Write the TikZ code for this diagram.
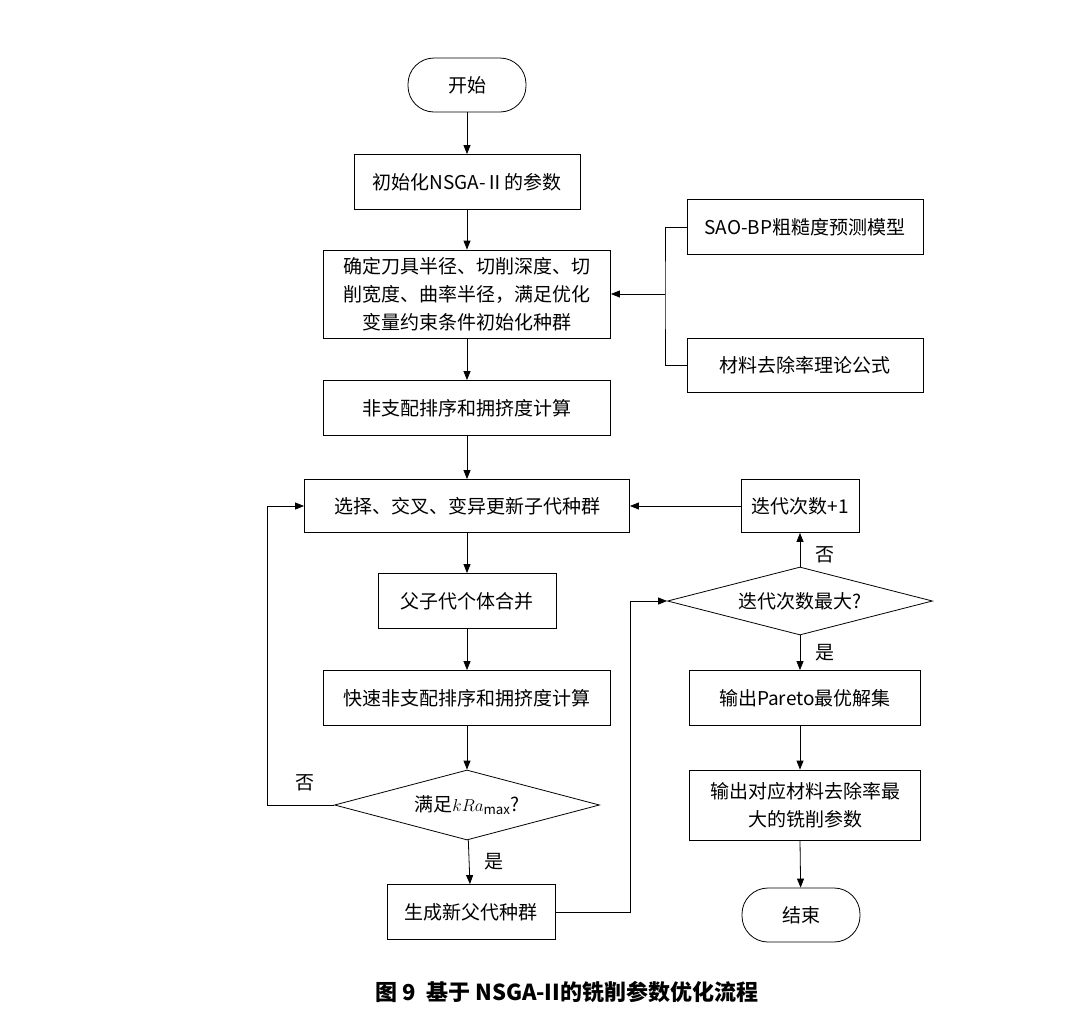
\documentclass[tikz,border=0pt]{standalone}
\usepackage{fontspec}
\setmainfont{Noto Sans CJK SC}
\usepackage{amsmath}
\usetikzlibrary{shapes.geometric,arrows.meta}
\tikzset{
  box/.style={draw,thick,inner sep=0pt,align=center,font=\fontsize{19}{28}\selectfont},
  term/.style={box,rounded corners=26pt,minimum width=118pt,minimum height=54pt},
  cond/.style={draw,thick,diamond,aspect=3.8,inner sep=0pt,font=\fontsize{19}{22}\selectfont},
  arr/.style={thick,-{Triangle[length=9pt,width=7pt]}},
  lbl/.style={font=\fontsize{19}{20}\selectfont}
}
\begin{document}
\begin{tikzpicture}[x=1pt,y=-1pt]
\useasboundingbox (0,0) rectangle (1080,1026);

% main column
\node[term] (start) at (467,85) {开始};
\node[box,minimum width=226pt,minimum height=55pt] (init) at (467,182) {初始化NSGA-Ⅱ的参数};
\node[box,minimum width=287pt,minimum height=88pt] (pop) at (467,294) {确定刀具半径、切削深度、切\\削宽度、曲率半径，满足优化\\变量约束条件初始化种群};
\node[box,minimum width=236pt,minimum height=55pt] (model) at (805,227) {SAO-BP粗糙度预测模型};
\node[box,minimum width=236pt,minimum height=54pt] (mrr) at (805,365) {材料去除率理论公式};
\node[box,minimum width=287pt,minimum height=55pt] (sort) at (467,408) {非支配排序和拥挤度计算};
\node[box,minimum width=325pt,minimum height=53pt] (sel) at (467,506) {选择、交叉、变异更新子代种群};
\node[box,minimum width=178pt,minimum height=55pt] (merge) at (467,601) {父子代个体合并};
\node[box,minimum width=287pt,minimum height=55pt] (fast) at (467,698) {快速非支配排序和拥挤度计算};
\node[cond,minimum width=265pt,minimum height=70pt] (ok) at (467,805) {满足$kRa_{\max}$?};
\node[box,minimum width=168pt,minimum height=55pt] (newp) at (471,912) {生成新父代种群};

% right column
\node[box,minimum width=118pt,minimum height=53pt] (iter) at (800,506) {迭代次数+1};
\node[cond,minimum width=265pt,minimum height=68pt] (max) at (800,601) {迭代次数最大?};
\node[box,minimum width=231pt,minimum height=55pt] (pareto) at (805,698) {输出Pareto最优解集};
\node[box,minimum width=231pt,minimum height=70pt] (best) at (805,805) {输出对应材料去除率最\\大的铣削参数};
\node[term] (stop) at (801,915) {结束};

\coordinate (j) at (665,294);
\coordinate (back) at (267,805);
\coordinate (up) at (630,912);

\draw[arr] (start) -- (init);
\draw[arr] (init) -- (pop);
\draw[arr] (pop) -- (sort);
\draw[arr] (sort) -- (sel);
\draw[arr] (sel) -- (merge);
\draw[arr] (merge) -- (fast);
\draw[arr] (fast) -- (ok);
\draw[arr] (ok) -- node[lbl,right=12pt] {是} (newp);
\draw[thick] (model.west) -| (j) |- (mrr.west);
\draw[arr] (j) -- (pop.east);
\draw[arr] (ok.west) -- (back) |- (sel.west);
\node[lbl] at (305,783) {否};
\draw[arr] (newp.east) -- (up) |- (max.west);
\draw[arr] (max.north) -- node[lbl,right=12pt,pos=0.35] {否} (iter.south);
\draw[arr] (iter.west) -- (sel.east);
\draw[arr] (max.south) -- node[lbl,right=12pt] {是} (max.south |- pareto.north);
\draw[arr] (max.south |- pareto.south) -- (max.south |- best.north);
\draw[arr] (max.south |- best.south) -- (stop);

\node[font=\fontsize{22}{24}\selectfont\bfseries] (cap) at (567,992) {图 9\ \ 基于 NSGA-II的铣削参数优化流程};
\end{tikzpicture}
\end{document}
